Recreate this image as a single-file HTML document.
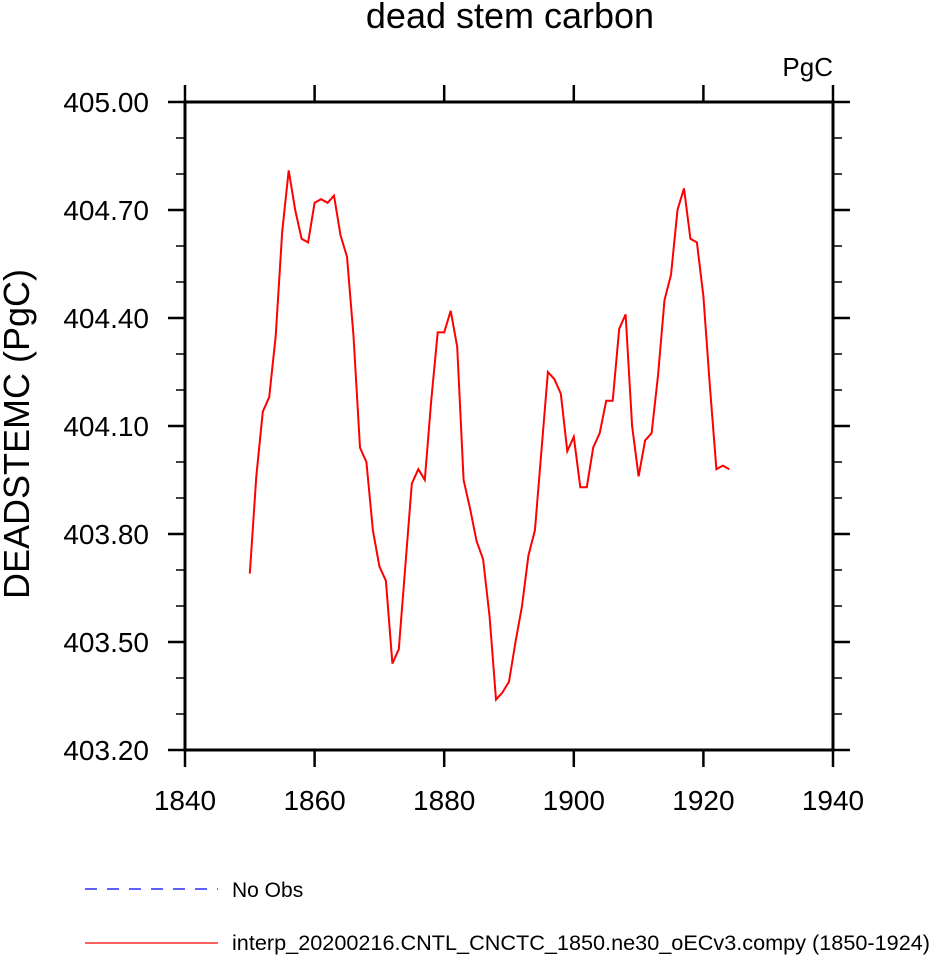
<!DOCTYPE html>
<html><head><meta charset="utf-8"><style>
html,body{margin:0;padding:0;background:#fff;}
svg{display:block;font-family:"Liberation Sans",sans-serif;}
</style></head><body>
<svg id="chart" width="931" height="955" viewBox="0 0 931 955" xmlns="http://www.w3.org/2000/svg">
<text x="510" y="28" font-size="36" text-anchor="middle">dead stem carbon</text>
<text x="833" y="76" font-size="26" text-anchor="end">PgC</text>
<text transform="translate(29,434) rotate(-90)" font-size="36" text-anchor="middle">DEADSTEMC  (PgC)</text>
<g id="ticks"></g>
<g id="series"></g>
<rect x="185" y="102" width="648" height="648" fill="none" stroke="#000" stroke-width="3"/>
<g>
<line x1="85" y1="889" x2="218" y2="889" stroke="#0000ff" stroke-width="1.2" stroke-dasharray="12,10"/>
<text x="232" y="897" font-size="21">No Obs</text>
<line x1="85" y1="943" x2="218" y2="943" stroke="#ff0000" stroke-width="1.2"/>
<text x="232" y="950" font-size="21.5" textLength="698" lengthAdjust="spacingAndGlyphs">interp_20200216.CNTL_CNCTC_1850.ne30_oECv3.compy (1850-1924)</text>
</g>
</svg>
<script>
const years = [];
for (let y = 1850; y <= 1924; y++) years.push(y);
const values = [403.69,403.96,404.14,404.18,404.35,404.64,404.81,404.70,404.62,404.61,
404.72,404.73,404.72,404.74,404.63,404.57,404.35,404.04,404.00,403.81,
403.71,403.67,403.44,403.48,403.71,403.94,403.98,403.95,404.17,404.36,
404.36,404.42,404.32,403.95,403.87,403.78,403.73,403.57,403.34,403.36,
403.39,403.50,403.60,403.74,403.81,404.03,404.25,404.23,404.19,404.03,
404.07,403.93,403.93,404.04,404.08,404.17,404.17,404.37,404.41,404.10,
403.96,404.06,404.08,404.24,404.45,404.52,404.70,404.76,404.62,404.61,
404.46,404.21,403.98,403.99,403.98];
const xTicks = [1840,1860,1880,1900,1920,1940];
const yTicks = [403.2,403.5,403.8,404.1,404.4,404.7,405.0];
const yMinorTicks = [403.3,403.4,403.6,403.7,403.9,404.0,404.2,404.3,404.5,404.6,404.8,404.9];
const L=185,R=833,T=102,B=750, X0=1840,X1=1940,Y0=403.2,Y1=405.0;
const sx=v=>L+(v-X0)/(X1-X0)*(R-L);
const sy=v=>B-(v-Y0)/(Y1-Y0)*(B-T);
const NS='http://www.w3.org/2000/svg';
const tg=document.getElementById('ticks');
function ln(x1,y1,x2,y2,w,name){const e=document.createElementNS(NS,'line');
e.setAttribute('x1',x1);e.setAttribute('y1',y1);e.setAttribute('x2',x2);e.setAttribute('y2',y2);
e.setAttribute('stroke','#000');e.setAttribute('stroke-width',w);


tg.appendChild(e);}
function tx(x,y,s,anchor,name){const e=document.createElementNS(NS,'text');
e.setAttribute('x',x);e.setAttribute('y',y);e.setAttribute('font-size','28');e.setAttribute('text-anchor',anchor);
e.textContent=s;


tg.appendChild(e);}
xTicks.forEach(v=>{const x=sx(v);ln(x,B,x,B+17,2.5,'x-tick');ln(x,T,x,T-17,2.5,'x-tick-top');
tx(x,810,String(v),'middle','x-tick-label');});
yTicks.forEach(v=>{const y=sy(v);ln(L,y,L-17,y,2.5,'y-tick');ln(R,y,R+17,y,2.5,'y-tick-right');
tx(149,y+10,v.toFixed(2),'end','y-tick-label');});
yMinorTicks.forEach(v=>{const y=sy(v);ln(L,y,L-9,y,1.5,'y-minor-tick');ln(R,y,R+9,y,1.5,'y-minor-tick-right');});
const p=document.createElementNS(NS,'polyline');
p.setAttribute('points',years.map((y,i)=>sx(y).toFixed(1)+','+sy(values[i]).toFixed(1)).join(' '));
p.setAttribute('fill','none');p.setAttribute('stroke','#ff0000');p.setAttribute('stroke-width','2');


document.getElementById('series').appendChild(p);
</script>
</body></html>
